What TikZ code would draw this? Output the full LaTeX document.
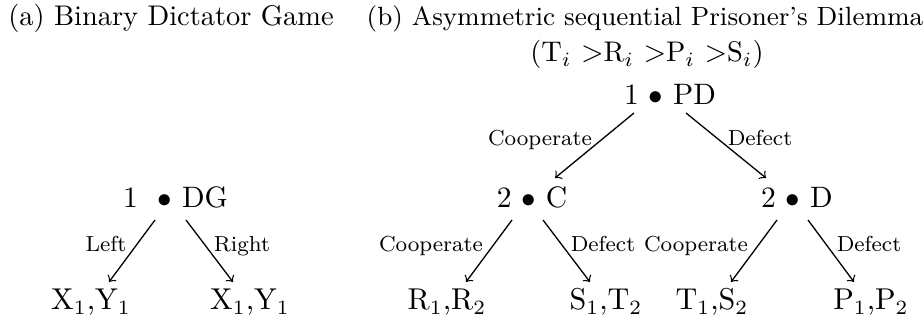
\documentclass[tikz,border=0pt]{standalone}
\begin{document}
\begin{tikzpicture}[x=0.345pt,y=-0.345pt,
  txt/.style={anchor=base,inner sep=0pt,outer sep=0pt},
  ttla/.style={txt,font=\fontsize{9.8}{12}\selectfont},
  ttlb/.style={txt,font=\fontsize{9.1}{12}\selectfont},
  gnode/.style={txt,font=\fontsize{10.2}{12}\selectfont},
  lbl/.style={txt,font=\fontsize{7.5}{9}\selectfont},
  leaf/.style={txt,font=\fontsize{10.4}{12}\selectfont},
  edge/.style={->,line width=0.45pt}]
\useasboundingbox (0,0) rectangle (924,321);
% titles
\node[ttla] (ta) at (171,26) {(a) Binary Dictator Game};
\node[ttlb] (tb) at (645,26) {(b) Asymmetric sequential Prisoner's Dilemma};
\node[ttla] (tc) at (647,62) {(T$_i$ $>$R$_i$ $>$P$_i$ $>$S$_i$)};
% (a) tree
\node[gnode] (dg) at (175.5,208) {1\ \ $\bullet$ DG};
\node[leaf] (xl) at (91,310) {X$_1$,Y$_1$};
\node[leaf] (xr) at (250,310) {X$_1$,Y$_1$};
\node[lbl] (ll) at (106,252) {Left};
\node[lbl] (lr) at (242,252) {Right};
\draw[edge] ([shift={(-20.5,12)}]dg.base) -- ([shift={(18,-28)}]xl.base);
\draw[edge] ([shift={(10.5,12)}]dg.base) -- ([shift={(-17,-28)}]xr.base);
% (b) tree
\node[gnode] (pd) at (670,105) {1 $\bullet$ PD};
\node[gnode] (c) at (532,208) {2 $\bullet$ C};
\node[gnode] (d) at (797,208) {2 $\bullet$ D};
\node[lbl] (l1) at (540,146) {Cooperate};
\node[lbl] (l2) at (760,146) {Defect};
\draw[edge] ([shift={(-36,8)}]pd.base) -- ([shift={(23,-30)}]c.base);
\draw[edge] ([shift={(16,8)}]pd.base) -- ([shift={(-31,-30)}]d.base);
\node[leaf] (rr) at (447,310) {R$_1$,R$_2$};
\node[leaf] (st) at (606,310) {S$_1$,T$_2$};
\node[leaf] (ts) at (712,310) {T$_1$,S$_2$};
\node[leaf] (pp) at (871,310) {P$_1$,P$_2$};
\node[lbl] (l3) at (431,252) {Cooperate};
\node[lbl] (l4) at (603,252) {Defect};
\node[lbl] (l5) at (696,252) {Cooperate};
\node[lbl] (l6) at (869,252) {Defect};
\draw[edge] ([shift={(-20,12)}]c.base) -- ([shift={(19,-28)}]rr.base);
\draw[edge] ([shift={(11,12)}]c.base) -- ([shift={(-16,-28)}]st.base);
\draw[edge] ([shift={(-20,12)}]d.base) -- ([shift={(19,-28)}]ts.base);
\draw[edge] ([shift={(11,12)}]d.base) -- ([shift={(-17,-28)}]pp.base);
\end{tikzpicture}
\end{document}
